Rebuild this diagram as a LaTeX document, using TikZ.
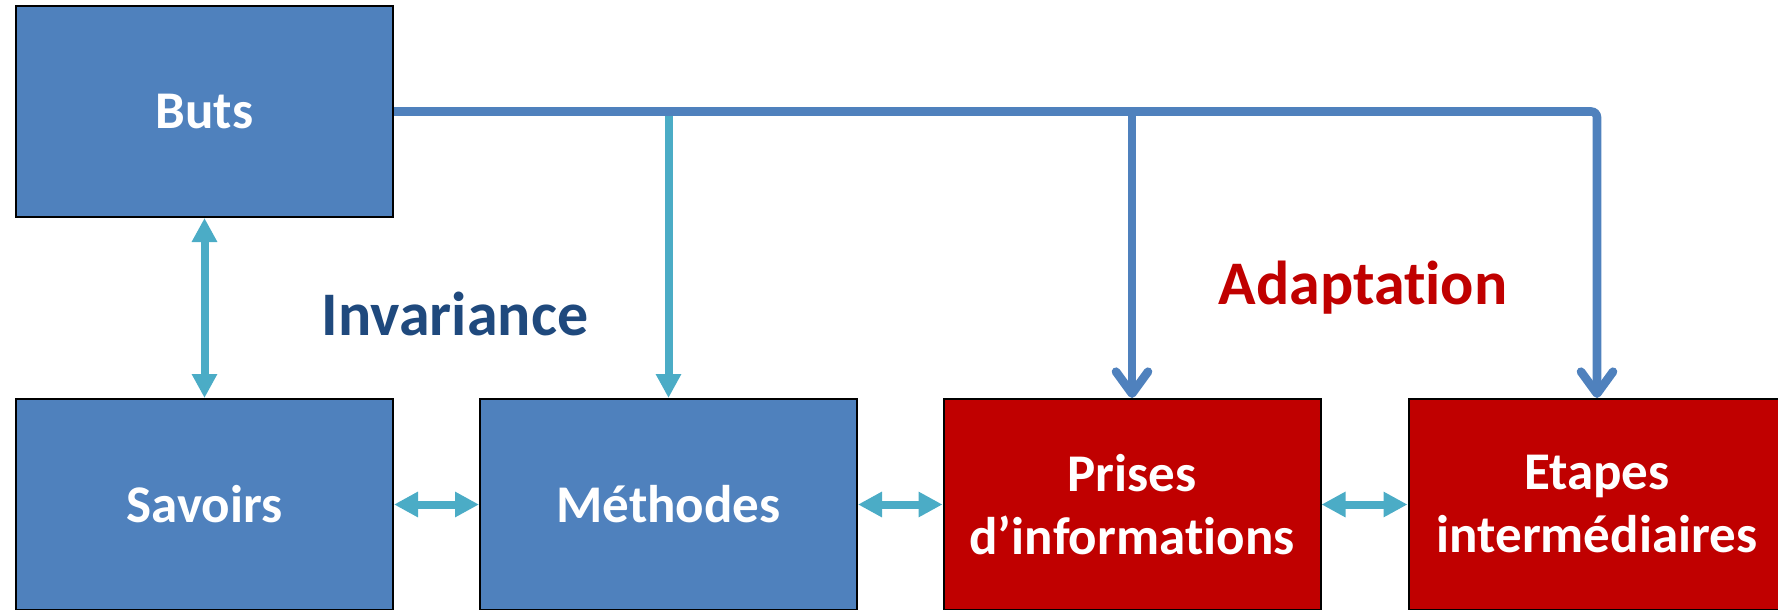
\documentclass[tikz,border=0pt]{standalone}
\usepackage{fontspec}
\setmainfont{Carlito}[Ligatures={NoCommon}]
\usetikzlibrary{arrows.meta}
\definecolor{boxblue}{HTML}{4F81BD}
\definecolor{linkcyan}{HTML}{4BACC6}
\definecolor{boxred}{HTML}{C00000}
\definecolor{labelblue}{HTML}{1F497D}
\begin{document}
\begin{tikzpicture}[x=0.5pt,y=-0.5pt,
  box/.style={draw=black, line width=1pt, minimum width=188.5pt, minimum height=105.5pt,
    text=white, font=\bfseries\fontsize{26.5}{31.5}\selectfont, align=center, inner sep=0pt},
  bluebox/.style={box, fill=boxblue},
  redbox/.style={box, fill=boxred},
  cyanlink/.style={draw=linkcyan, line width=4pt},
  cyantip/.tip={Triangle[length=12pt,width=12pt]},
  twoway/.style={cyanlink, cyantip-cyantip},
  oneway/.style={cyanlink, -cyantip},
  bluelink/.style={draw=boxblue, line width=4.3pt, -{Straight Barb[length=11pt,width=16pt,round]}},
  biglabel/.style={font=\bfseries\fontsize{31}{37}\selectfont, anchor=base, inner sep=0pt}
]
\useasboundingbox (0,0) rectangle (1778,610);

\node[bluebox] (buts) at (204.5,111.5) {Buts};
\node[bluebox] (savoirs) at (204.5,504.5) {Savoirs};
\node[bluebox] (methodes) at (668.5,504.5) {Méthodes};
\node[redbox] (prises) at (1132,504.5) {Prises\\d’informations};
\node[redbox] (etapes) at (1597,504.5) {Etapes\\intermédiaires};

\node[biglabel, text=labelblue] (invariance) at (455,335) {Invariance};
\node[biglabel, text=boxred] (adaptation) at (1363,304) {Adaptation};

\coordinate (jm) at (methodes.north |- buts.east);
\coordinate (jp) at (prises.north |- buts.east);
\coordinate (je) at (etapes.north |- buts.east);

\draw[oneway] (jm) -- (methodes.north);
\draw[bluelink, rounded corners=3pt] (buts.east) -- (je) -- (etapes.north);
\draw[bluelink] (jp) -- (prises.north);

\draw[twoway] (buts.south) -- (savoirs.north);
\draw[twoway] (savoirs.east) -- (methodes.west);
\draw[twoway] (methodes.east) -- (prises.west);
\draw[twoway] (prises.east) -- (etapes.west);
\end{tikzpicture}
\end{document}
